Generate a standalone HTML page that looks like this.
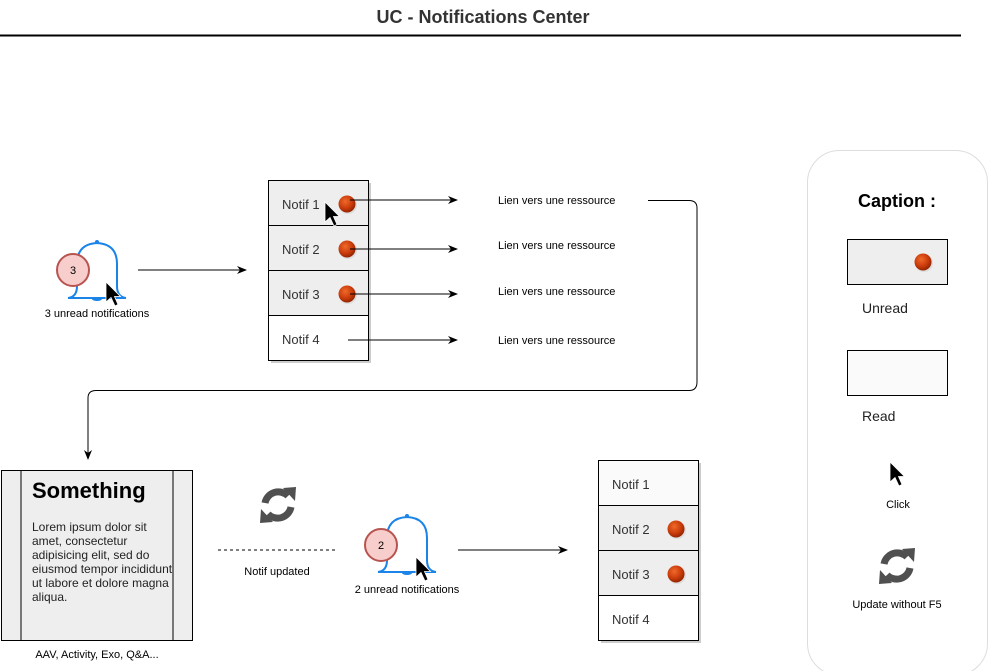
<!DOCTYPE html>
<html><head><meta charset="utf-8"><style>
html,body{margin:0;padding:0;background:#fff;}
svg{display:block;font-family:"Liberation Sans",Arial,sans-serif;}
</style></head><body>
<svg width="988" height="671" viewBox="0 0 988 671" xmlns="http://www.w3.org/2000/svg">
<defs>
<radialGradient id="g" cx="0.4" cy="0.35" r="0.7">
<stop offset="0" stop-color="#f06a2a"/><stop offset="0.6" stop-color="#c83a0a"/><stop offset="1" stop-color="#8a2000"/>
</radialGradient>
<g id="dot"><circle r="9" fill="#ccc" opacity="0.5" cx="1" cy="1"/><circle r="8.5" fill="url(#g)"/></g>
<path id="cur" d="M0,0 L0,20 L5,15.5 L9,24 L12,22.5 L8.5,14.5 L14.5,14.5 Z" fill="#000" stroke="#fff" stroke-width="0.8"/>
<g id="ref" fill="none" stroke="#505050" stroke-width="7">
<path d="M-13,-2 A13.5,13.5 0 0 1 10,-9"/>
<path d="M13,2 A13.5,13.5 0 0 1 -10,9"/>
<path d="M5,-17 L18,-18 L17,-4 Z" fill="#505050" stroke="none"/>
<path d="M-5,17 L-18,18 L-17,4 Z" fill="#505050" stroke="none"/>
</g>
<g id="bell" fill="none" stroke="#1a84e8" stroke-width="2">
<path d="M-29,28 Q-20,27 -20,16 L-20,-6 Q-20,-26 0,-27 Q20,-26 20,-6 L20,16 Q20,27 29,28 Z"/>
<circle cx="0" cy="-28" r="2" fill="#1a84e8" stroke="none"/>
<ellipse cx="0" cy="29" rx="5" ry="2" fill="#1a84e8" stroke="none"/>
</g>
<marker id="ah" markerWidth="10" markerHeight="8" refX="9" refY="4" orient="auto" markerUnits="userSpaceOnUse">
<path d="M0,0 L10,4 L0,8 L3,4 Z" fill="#000"/></marker>
</defs>

<text x="483" y="23" text-anchor="middle" font-size="18" font-weight="bold" fill="#333">UC - Notifications Center</text>
<line x1="0" y1="35.5" x2="961" y2="35.5" stroke="#000" stroke-width="2"/>

<use href="#bell" x="97" y="270"/>
<circle cx="73" cy="270" r="16" fill="#f8cecc" stroke="#b85450" stroke-width="2"/>
<text x="73" y="274" font-size="11" text-anchor="middle" fill="#000">3</text>
<use href="#cur" x="106" y="282"/>
<text x="97" y="317" font-size="11" text-anchor="middle" fill="#000">3 unread notifications</text>
<line x1="138" y1="270" x2="246" y2="270" stroke="#000" marker-end="url(#ah)"/>

<rect x="271" y="183" width="100" height="180" fill="#ccc"/>
<rect x="268.5" y="180.5" width="100" height="45" fill="#eee" stroke="#000"/>
<rect x="268.5" y="225.5" width="100" height="45" fill="#eee" stroke="#000"/>
<rect x="268.5" y="270.5" width="100" height="45" fill="#eee" stroke="#000"/>
<rect x="268.5" y="315.5" width="100" height="45" fill="#fff" stroke="#000"/>
<g font-size="13" fill="#333">
<text x="282" y="209">Notif 1</text><text x="282" y="254">Notif 2</text>
<text x="282" y="299">Notif 3</text><text x="282" y="344">Notif 4</text></g>
<use href="#dot" x="347" y="204"/><use href="#dot" x="347" y="249"/><use href="#dot" x="347" y="294"/>
<g stroke="#000" marker-end="url(#ah)">
<line x1="350" y1="200" x2="457" y2="200"/>
<line x1="350" y1="249" x2="457" y2="249"/>
<line x1="350" y1="294" x2="457" y2="294"/>
<line x1="348" y1="340" x2="457" y2="340"/>
</g>
<use href="#cur" x="325" y="202"/>
<g font-size="11" fill="#000">
<text x="498" y="204">Lien vers une ressource</text><text x="498" y="249">Lien vers une ressource</text>
<text x="498" y="295">Lien vers une ressource</text><text x="498" y="344">Lien vers une ressource</text></g>
<path d="M648,200.5 L689,200.5 Q697,200.5 697,208 L697,382 Q697,390.5 689,390.5 L96,390.5 Q88,390.5 88,398 L88,459" fill="none" stroke="#000" marker-end="url(#ah)"/>

<rect x="1.5" y="470.5" width="191" height="170" fill="#eee" stroke="#000"/>
<line x1="21" y1="471" x2="21" y2="640" stroke="#000"/>
<line x1="173" y1="471" x2="173" y2="640" stroke="#000"/>
<text x="32" y="498" font-size="22" font-weight="bold" fill="#000">Something</text>
<g font-size="12" fill="#222">
<text x="32" y="531">Lorem ipsum dolor sit</text>
<text x="32" y="545">amet, consectetur</text>
<text x="32" y="559">adipisicing elit, sed do</text>
<text x="32" y="573">eiusmod tempor incididunt</text>
<text x="32" y="587">ut labore et dolore magna</text>
<text x="32" y="601">aliqua.</text></g>
<text x="97" y="658" font-size="11" text-anchor="middle" fill="#000">AAV, Activity, Exo, Q&amp;A...</text>

<use href="#ref" x="278" y="505"/>
<line x1="218" y1="550" x2="335" y2="550" stroke="#000" stroke-dasharray="3,3"/>
<text x="277" y="575" font-size="11" text-anchor="middle" fill="#000">Notif updated</text>

<use href="#bell" x="407" y="544"/>
<circle cx="381" cy="545" r="16" fill="#f8cecc" stroke="#b85450" stroke-width="2"/>
<text x="381" y="549" font-size="11" text-anchor="middle" fill="#000">2</text>
<use href="#cur" x="416" y="557"/>
<text x="407" y="593" font-size="11" text-anchor="middle" fill="#000">2 unread notifications</text>
<line x1="458" y1="550" x2="567" y2="550" stroke="#000" marker-end="url(#ah)"/>

<rect x="601" y="463" width="100" height="180" fill="#ccc"/>
<rect x="598.5" y="460.5" width="100" height="45" fill="#fafafa" stroke="#000"/>
<rect x="598.5" y="505.5" width="100" height="45" fill="#eee" stroke="#000"/>
<rect x="598.5" y="550.5" width="100" height="45" fill="#eee" stroke="#000"/>
<rect x="598.5" y="595.5" width="100" height="45" fill="#fff" stroke="#000"/>
<g font-size="13" fill="#333">
<text x="612" y="489">Notif 1</text><text x="612" y="534">Notif 2</text>
<text x="612" y="579">Notif 3</text><text x="612" y="624">Notif 4</text></g>
<use href="#dot" x="676" y="529"/><use href="#dot" x="676" y="574"/>

<rect x="807.5" y="150.5" width="180" height="525" rx="32" fill="#fff" stroke="#ddd"/>
<text x="897" y="207" font-size="18" font-weight="bold" text-anchor="middle" fill="#000">Caption :</text>
<rect x="847.5" y="239.5" width="100" height="45" fill="#eee" stroke="#000"/>
<use href="#dot" x="923" y="262"/>
<text x="862" y="313" font-size="14" fill="#222">Unread</text>
<rect x="847.5" y="350.5" width="100" height="45" fill="#fafafa" stroke="#000"/>
<text x="862" y="421" font-size="14" fill="#222">Read</text>
<use href="#cur" x="890" y="462"/>
<text x="898" y="508" font-size="11" text-anchor="middle" fill="#000">Click</text>
<use href="#ref" x="897" y="566"/>
<text x="897" y="608" font-size="11" text-anchor="middle" fill="#000">Update without F5</text>
</svg>
</body></html>
